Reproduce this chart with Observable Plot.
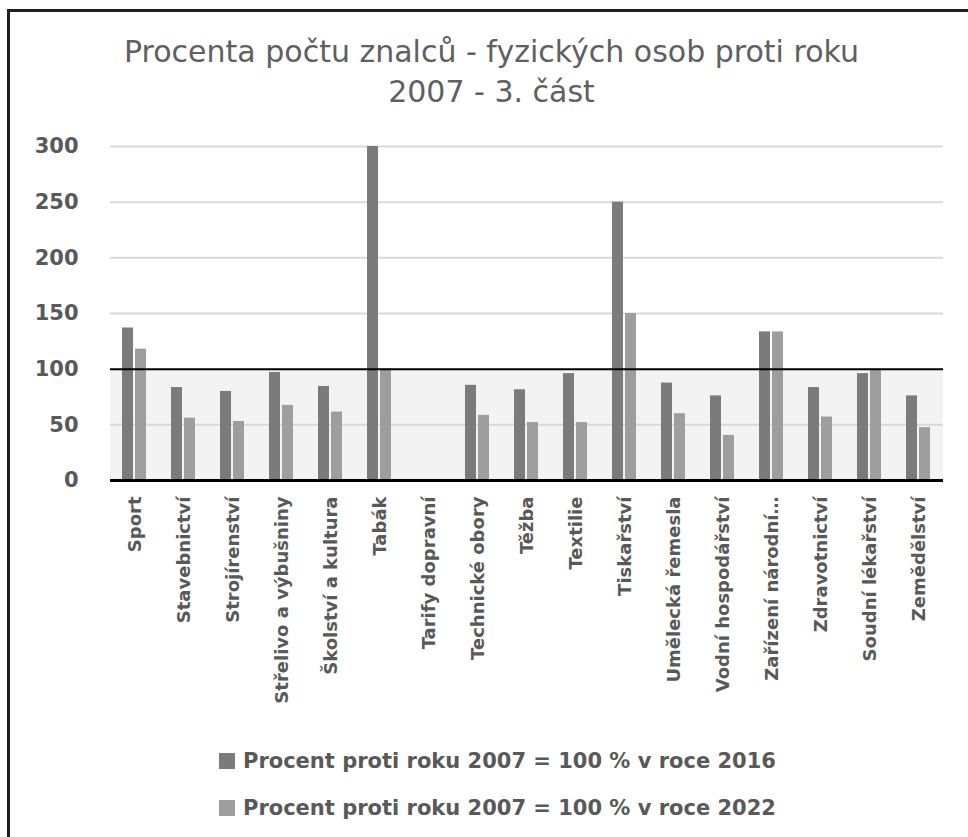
<!DOCTYPE html>
<html>
<head>
<meta charset="utf-8">
<script src="https://cdn.jsdelivr.net/npm/d3@7"></script>
<script src="https://cdn.jsdelivr.net/npm/@observablehq/plot@0.6"></script>
<style>
  html, body { margin: 0; padding: 0; background: #fff; }
  #page { position: relative; width: 968px; height: 837px; overflow: hidden; font-family: "DejaVu Sans", sans-serif; }
  #chart { position: absolute; left: 0; top: 0; }
  #frame { position: absolute; left: 7px; top: 9px; width: 980px; height: 900px; border-top: 3px solid #1e1e1e; border-left: 3px solid #1e1e1e; pointer-events: none; }
  #title { position: absolute; left: 0; top: 32px; width: 983px; text-align: center; font-size: 30px; line-height: 40px; color: #606060; font-weight: 400; }
  #legend { position: absolute; left: 219px; top: 737px; color: #595959; font-weight: 700; font-size: 21px; }
  .lg { display: flex; align-items: center; height: 47px; }
  .sw { width: 16px; height: 16px; margin-right: 8px; }
  #chart text { font-family: "DejaVu Sans", sans-serif; }
  #chart g[aria-label^="y-axis"] text { font-size: 21px; font-weight: 700; fill: #595959; }
  #chart g[aria-label^="fx-axis"] text { font-size: 18px; font-weight: 700; fill: #595959; }
</style>
</head>
<body>
<div id="page">
  <div id="chart"></div>
  <div id="title">Procenta počtu znalců - fyzických osob proti roku<br>2007 - 3. část</div>
  <div id="legend"></div>
  <div id="frame"></div>
</div>
<script>
const categories = ["Sport","Stavebnictví","Strojírenství","Střelivo a výbušniny","Školství a kultura","Tabák","Tarify dopravní","Technické obory","Těžba","Textilie","Tiskařství","Umělecká řemesla","Vodní hospodářství","Zařízení národní…","Zdravotnictví","Soudní lékařství","Zemědělství"];
const series = ["Procent proti roku 2007 = 100 % v roce 2016", "Procent proti roku 2007 = 100 % v roce 2022"];
const values2016 = [137, 83.5, 80, 97, 84.5, 300, null, 85.5, 81.5, 96, 250, 87.5, 76, 133.5, 83.5, 96, 76];
const values2022 = [118, 56, 53, 67.5, 61.5, 100, null, 58.5, 52, 52, 150, 60, 40.5, 133.5, 57, 100, 47.5];
const yTicks = [0, 50, 100, 150, 200, 250, 300];
const colors = ["#7b7b7b", "#9e9e9e"];

const data = [];
categories.forEach((c, i) => {
  data.push({category: c, series: series[0], value: values2016[i]});
  data.push({category: c, series: series[1], value: values2022[i]});
});

const chart = Plot.plot({
  width: 968,
  height: 730,
  marginTop: 146,
  marginBottom: 250,
  marginLeft: 105,
  marginRight: 20,
  style: {background: "transparent", fontFamily: "'DejaVu Sans', sans-serif"},
  fx: {domain: categories, padding: 0, label: null},
  x: {domain: series, paddingInner: 0.143, paddingOuter: 0.843, axis: null},
  y: {domain: [0, 300], label: null},
  color: {domain: series, range: colors},
  marks: [
    Plot.rect([{lo: 0, hi: 100}], {y1: "lo", y2: "hi", fill: "#f3f3f3"}),
    Plot.gridY(yTicks.filter(t => t !== 0 && t !== 100), {stroke: "#d9d9d9", strokeOpacity: 1, strokeWidth: 2}),
    Plot.barY(data, {fx: "category", x: "series", y: "value", fill: "series"}),
    Plot.ruleY([100], {stroke: "#000", strokeWidth: 2}),
    Plot.ruleY([0], {stroke: "#000", strokeWidth: 3}),
    Plot.axisY({ticks: yTicks, tickSize: 0, tickPadding: 32, label: null, fontSize: 21, fontWeight: 700, fill: "#595959"}),
    Plot.axisFx({anchor: "bottom", tickRotate: -90, tickSize: 0, tickPadding: 16, label: null, fontSize: 18, fontWeight: 700, fill: "#595959"})
  ]
});
document.getElementById("chart").appendChild(chart);

const legend = document.getElementById("legend");
series.forEach((s, i) => {
  const row = document.createElement("div");
  row.className = "lg";
  const sw = document.createElement("div");
  sw.className = "sw";
  sw.style.background = colors[i];
  const t = document.createElement("span");
  t.textContent = s;
  row.appendChild(sw);
  row.appendChild(t);
  legend.appendChild(row);
});
</script>
</body>
</html>
